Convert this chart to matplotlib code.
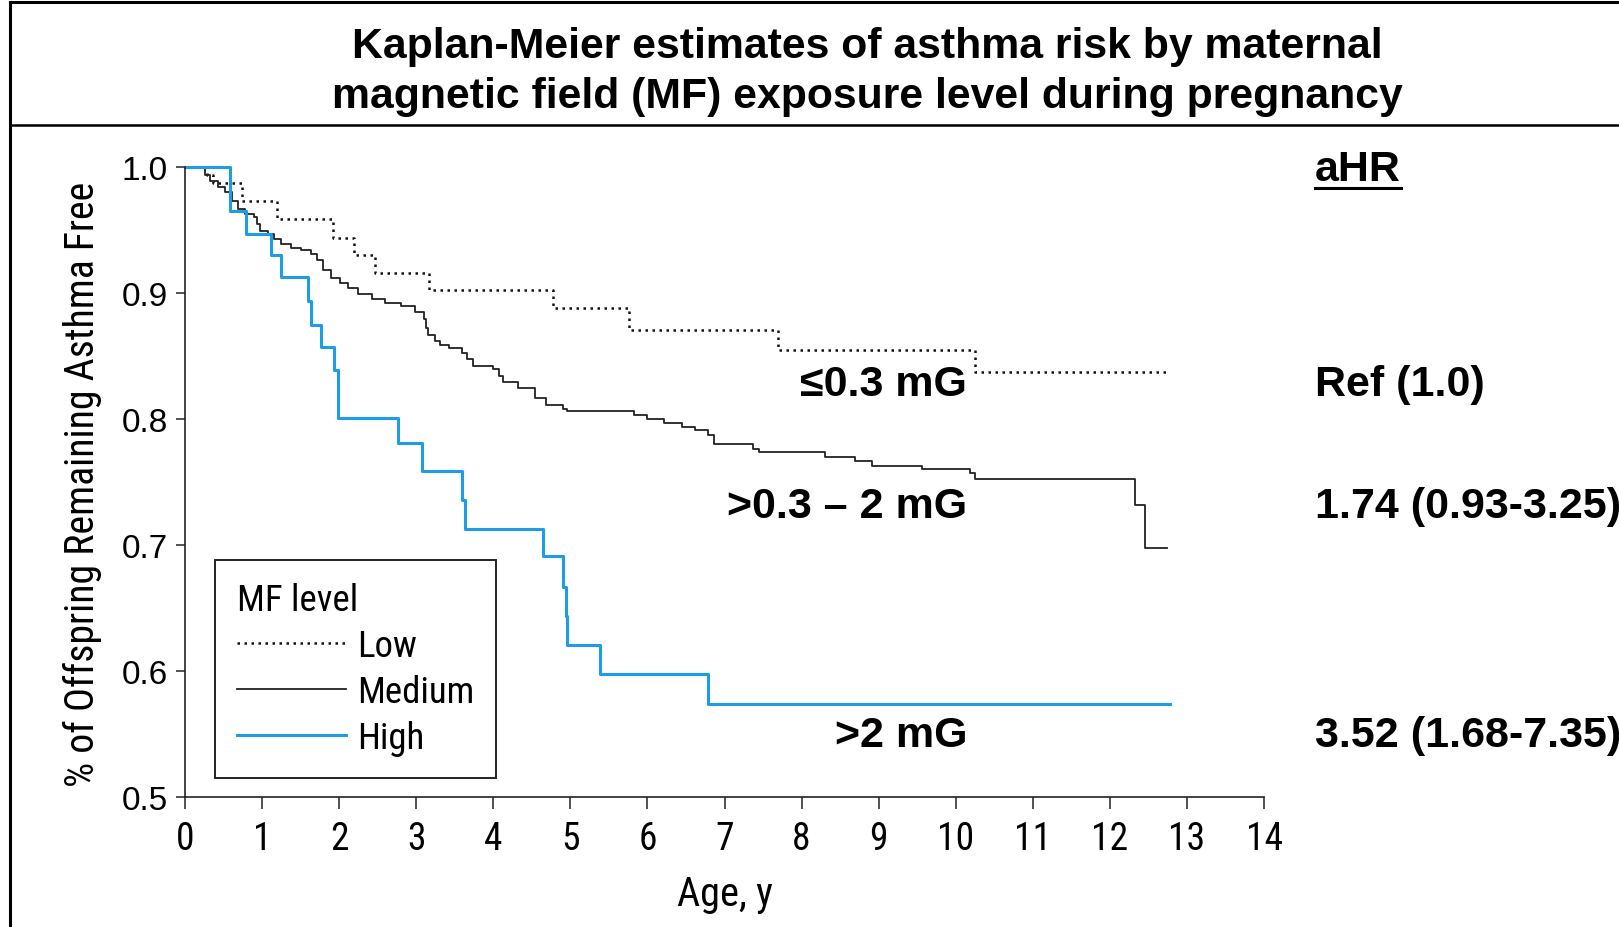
import matplotlib
matplotlib.use("Agg")
import matplotlib.pyplot as plt
from matplotlib.lines import Line2D
from matplotlib import font_manager as fm

# ---------------- data ----------------
title_lines = ["Kaplan-Meier estimates of asthma risk by maternal",
               "magnetic field (MF) exposure level during pregnancy"]

low_t = [0, 0.28, 0.36, 0.74, 1.19, 1.92, 2.19, 2.47, 3.17, 4.78, 5.76, 7.70, 10.25, 12.78]
low_s = [1.0, 0.994, 0.987, 0.973, 0.959, 0.944, 0.930, 0.916, 0.902, 0.888, 0.871, 0.855, 0.837, 0.837]

med_t = [0, 0.26, 0.32, 0.43, 0.52, 0.61, 0.69, 0.78, 0.89, 0.93, 0.97, 1.08, 1.15, 1.25,
         1.38, 1.51, 1.64, 1.71, 1.79, 1.90, 2.01, 2.12, 2.25, 2.42, 2.60, 2.80, 2.98,
         3.10, 3.13, 3.15, 3.24, 3.31, 3.42, 3.59, 3.66, 3.74, 3.99, 4.07, 4.13, 4.32,
         4.54, 4.69, 4.90, 4.95, 5.82, 5.99, 6.21, 6.45, 6.62, 6.78, 6.87, 7.37, 7.45,
         8.31, 8.69, 8.91, 9.56, 10.18, 10.25, 12.33, 12.46, 12.74]
med_s = [1.0, 0.994, 0.989, 0.984, 0.980, 0.973, 0.967, 0.963, 0.960, 0.955, 0.949, 0.947, 0.943, 0.939,
         0.936, 0.934, 0.931, 0.926, 0.918, 0.912, 0.908, 0.904, 0.899, 0.895, 0.892, 0.890, 0.885,
         0.879, 0.872, 0.867, 0.862, 0.859, 0.856, 0.852, 0.848, 0.842, 0.840, 0.834, 0.829, 0.825,
         0.817, 0.811, 0.808, 0.806, 0.803, 0.800, 0.797, 0.794, 0.791, 0.787, 0.780, 0.776, 0.774,
         0.770, 0.767, 0.763, 0.760, 0.757, 0.752, 0.732, 0.698, 0.698]

high_t = [0, 0.58, 0.79, 1.12, 1.24, 1.60, 1.64, 1.77, 1.93, 1.99, 2.77, 3.08, 3.59, 3.63,
          4.65, 4.91, 4.94, 4.96, 5.39, 6.79, 12.78]
high_s = [1.0, 0.965, 0.947, 0.930, 0.913, 0.894, 0.875, 0.857, 0.839, 0.801, 0.781, 0.759, 0.736, 0.713,
          0.691, 0.667, 0.644, 0.621, 0.598, 0.574, 0.574]

series_names = ["Low", "Medium", "High"]
curve_labels = ["\u22640.3 mG", ">0.3 \u2013 2 mG", ">2 mG"]
ahr_header = "aHR"
ahr_values = ["Ref (1.0)", "1.74 (0.93-3.25)", "3.52 (1.68-7.35)"]
x_ticks = list(range(0, 15))
y_ticks = [0.5, 0.6, 0.7, 0.8, 0.9, 1.0]
x_label = "Age, y"
y_label = "% of Offspring Remaining Asthma Free"
legend_title = "MF level"

# ---------------- styling ----------------
avail = {f.name for f in fm.fontManager.ttflist}
COND = next((n for n in ["Liberation Sans Narrow", "Roboto Condensed", "Arial Narrow",
                         "Open Sans Condensed"] if n in avail), "Liberation Sans")
SANS = ["Liberation Sans", "DejaVu Sans"]
cond_scale = 1.0 if COND != "Liberation Sans" else 0.84

W, H = 1619, 928
fig = plt.figure(figsize=(W / 100, H / 100), dpi=100)

def fx(px):
    return px / W

def fy(py):
    return 1 - py / H

ax = fig.add_axes([fx(185), fy(798), fx(1264) - fx(185), fy(168) - fy(798)])

BLUE = "#1c9de6"
ax.step(low_t, low_s, where="post", color="#111111", lw=1.8,
        linestyle=(0, (1.0, 1.8)), clip_on=False, label=series_names[0])
ax.step(med_t, med_s, where="post", color="#222222", lw=1.3, clip_on=False,
        label=series_names[1])
ax.step(high_t, high_s, where="post", color=BLUE, lw=2.2, clip_on=False,
        label=series_names[2])

ax.set_xlim(0, 14)
ax.set_ylim(0.5, 1.0)
ax.set_xticks(x_ticks)
ax.set_yticks(y_ticks)
ax.set_xticklabels([str(v) for v in x_ticks], family=[COND] + SANS, fontsize=27 * cond_scale)
ax.set_yticklabels([f"{v:.1f}" for v in y_ticks], family=SANS, fontsize=24)
for s in ["top", "right"]:
    ax.spines[s].set_visible(False)
for s in ["left", "bottom"]:
    ax.spines[s].set_linewidth(1.2)
    ax.spines[s].set_color("#222222")
ax.tick_params(axis="x", length=8.5, width=1.1, pad=8, color="#222222")
ax.tick_params(axis="y", length=6.5, width=1.1, pad=6, color="#222222")

# axis labels
fig.text(fx(82), fy(484), y_label, rotation=90, ha="center", va="center",
         family=[COND] + SANS, fontsize=28.6 * cond_scale)
fig.text(fx(725), fy(895), x_label, ha="center", va="center",
         family=[COND] + SANS, fontsize=29 * cond_scale)

# legend
handles = [Line2D([], [], color="#111111", lw=1.8, linestyle=(0, (1.0, 1.8))),
           Line2D([], [], color="#222222", lw=1.3),
           Line2D([], [], color=BLUE, lw=2.2)]
leg = ax.legend(handles, series_names, title=legend_title, loc="upper left",
                bbox_to_anchor=(fx(215), fy(561)), bbox_transform=fig.transFigure,
                borderaxespad=0, fancybox=False, framealpha=1, edgecolor="#222222",
                prop={"family": [COND] + SANS, "size": 26.5 * cond_scale},
                title_fontproperties={"family": [COND] + SANS, "size": 26.5 * cond_scale},
                handlelength=2.95, handletextpad=0.3, labelspacing=0.27,
                borderpad=0.6, alignment="left")
leg.get_frame().set_linewidth(1.4)

# curve labels & aHR column
bold = dict(family=SANS, weight="bold", fontsize=31)
label_y = [385, 507, 736]
for txt, yy in zip(curve_labels, label_y):
    fig.text(fx(967), fy(yy), txt, ha="right", va="center", **bold)
for txt, yy in zip(ahr_values, label_y):
    fig.text(fx(1315), fy(yy), txt, ha="left", va="center", **bold)
hdr = fig.text(fx(1315), fy(170), ahr_header, ha="left", va="center", **bold)

# title
fig.text(fx(867), fy(47), title_lines[0], ha="center", va="center",
         family=SANS, weight="bold", fontsize=30.8)
fig.text(fx(867), fy(97), title_lines[1], ha="center", va="center",
         family=SANS, weight="bold", fontsize=30.8)

# frame lines
fig.add_artist(Line2D([fx(10), fx(10)], [0, fy(3)], color="black", lw=2.2))
fig.add_artist(Line2D([fx(10), 1], [fy(3), fy(3)], color="black", lw=2.2))
fig.add_artist(Line2D([fx(10), 1], [fy(126), fy(126)], color="black", lw=1.8))

# underline for aHR
fig.canvas.draw()
bb = hdr.get_window_extent()
fig.add_artist(Line2D([bb.x0 / W, bb.x1 / W], [fy(189), fy(189)], color="black", lw=2.2))

fig.savefig("out.png", dpi=100, facecolor="white")
